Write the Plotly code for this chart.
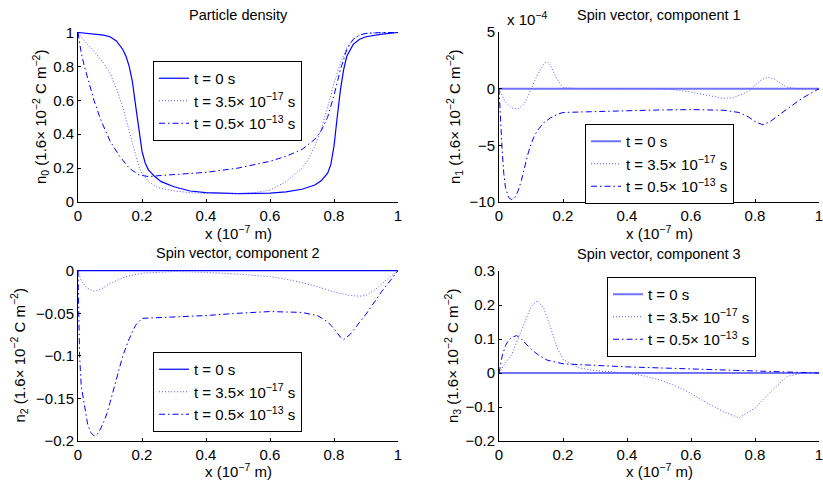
import plotly.graph_objects as go

# ---------------- data ----------------
# Panel 1: particle density n0
p1_x_t0 = [0, 0.05, 0.08, 0.1, 0.12, 0.14, 0.15, 0.16, 0.17, 0.18, 0.19, 0.2, 0.21, 0.22, 0.24, 0.26, 0.3, 0.35,
           0.4, 0.5, 0.6, 0.65, 0.7, 0.74, 0.76, 0.78, 0.79, 0.8, 0.81, 0.82, 0.83, 0.84, 0.86, 0.88, 0.9, 0.95, 1]
p1_y_t0 = [1, 0.99, 0.985, 0.975, 0.95, 0.9, 0.86, 0.8, 0.71, 0.57, 0.42, 0.3, 0.23, 0.19, 0.15, 0.12, 0.09, 0.065,
           0.055, 0.05, 0.052, 0.06, 0.075, 0.1, 0.125, 0.17, 0.22, 0.33, 0.5, 0.66, 0.78, 0.86, 0.93, 0.96, 0.975,
           0.99, 1]
p1_x_t1 = [0, 0.02, 0.05, 0.08, 0.1, 0.12, 0.14, 0.16, 0.18, 0.19, 0.2, 0.22, 0.25, 0.3, 0.35, 0.4, 0.5, 0.55,
           0.6, 0.65, 0.7, 0.72, 0.74, 0.76, 0.78, 0.8, 0.82, 0.84, 0.86, 0.88, 0.9, 0.95, 1]
p1_y_t1 = [1, 0.95, 0.89, 0.82, 0.76, 0.67, 0.56, 0.42, 0.27, 0.21, 0.17, 0.12, 0.085, 0.065, 0.055, 0.05, 0.05, 0.055,
           0.07, 0.12, 0.2, 0.25, 0.33, 0.43, 0.56, 0.7, 0.82, 0.91, 0.96, 0.985, 0.995, 1, 1]
p1_x_t2 = [0, 0.005, 0.01, 0.02, 0.03, 0.05, 0.07, 0.1, 0.13, 0.16, 0.19, 0.22, 0.25, 0.3, 0.4, 0.5, 0.6, 0.65,
           0.7, 0.74, 0.76, 0.78, 0.8, 0.82, 0.84, 0.86, 0.88, 0.9, 0.95, 1]
p1_y_t2 = [1, 0.94, 0.88, 0.8, 0.73, 0.6, 0.49, 0.36, 0.27, 0.2, 0.16, 0.15, 0.155, 0.163, 0.175, 0.2, 0.24, 0.27,
           0.31, 0.37, 0.42, 0.5, 0.63, 0.78, 0.9, 0.96, 0.985, 0.995, 1, 1]

# Panel 2: spin component 1 (units of 1e-4)
p2_x_t0 = [0, 1]
p2_y_t0 = [0, 0]
p2_x_t1 = [0, 0.02, 0.04, 0.06, 0.08, 0.1, 0.12, 0.14, 0.15, 0.16, 0.18, 0.2, 0.25, 0.5, 0.55, 0.6, 0.65,
           0.7, 0.73, 0.76, 0.78, 0.8, 0.82, 0.84, 0.86, 0.88, 0.9, 0.93, 1]
p2_y_t1 = [0, -1.2, -1.7, -1.8, -1.3, -0.1, 1.2, 2.2, 2.4, 2.1, 0.9, 0.1, 0, 0, -0.1, -0.3, -0.6,
           -0.85, -0.8, -0.5, -0.2, 0.3, 0.8, 1.0, 0.85, 0.45, 0.15, 0, 0]
p2_x_t2 = [0, 0.005, 0.01, 0.015, 0.02, 0.03, 0.04, 0.05, 0.06, 0.07, 0.08, 0.09, 0.1, 0.11, 0.12, 0.14, 0.16,
           0.18, 0.2, 0.3, 0.4, 0.5, 0.6, 0.7, 0.75, 0.78, 0.8, 0.825, 0.85, 0.9, 0.95, 1]
p2_y_t2 = [0, -3, -5.5, -7.5, -8.7, -9.6, -9.8, -9.6, -9.0, -8.1, -6.9, -5.8, -4.9, -4.2, -3.7, -3.0, -2.6,
           -2.3, -2.1, -2.05, -1.95, -1.88, -1.85, -1.9, -2.1, -2.5, -2.9, -3.2, -2.85, -1.8, -0.8, 0]

# Panel 3: spin component 2
p3_x_t0 = [0, 1]
p3_y_t0 = [0, 0]
p3_x_t1 = [0, 0.01, 0.03, 0.05, 0.07, 0.1, 0.15, 0.2, 0.3, 0.4, 0.5, 0.6, 0.65, 0.7, 0.75, 0.8, 0.85,
           0.88, 0.9, 0.93, 0.96, 1]
p3_y_t1 = [0, -0.012, -0.021, -0.024, -0.022, -0.015, -0.007, -0.003, -0.001, -0.002, -0.004, -0.007, -0.01,
           -0.014, -0.019, -0.025, -0.029, -0.03, -0.029, -0.022, -0.012, 0]
p3_x_t2 = [0, 0.005, 0.01, 0.02, 0.03, 0.04, 0.05, 0.06, 0.07, 0.08, 0.09, 0.1, 0.12, 0.14, 0.16, 0.18, 0.2,
           0.3, 0.4, 0.5, 0.6, 0.7, 0.75, 0.78, 0.8, 0.82, 0.83, 0.85, 0.9, 0.95, 1]
p3_y_t2 = [0, -0.1, -0.135, -0.16, -0.18, -0.19, -0.194, -0.192, -0.186, -0.178, -0.168, -0.155, -0.127, -0.1,
           -0.08, -0.064, -0.056, -0.0545, -0.0527, -0.05, -0.048, -0.049, -0.053, -0.06, -0.068, -0.078,
           -0.081, -0.075, -0.051, -0.024, 0]

# Panel 4: spin component 3
p4_x_t0 = [0, 1]
p4_y_t0 = [0, 0]
p4_x_t1 = [0, 0.02, 0.04, 0.06, 0.08, 0.1, 0.12, 0.14, 0.16, 0.18, 0.2, 0.25, 0.3, 0.4, 0.45, 0.5, 0.55,
           0.6, 0.65, 0.7, 0.75, 0.8, 0.85, 0.9, 0.95, 1]
p4_y_t1 = [0, 0.03, 0.055, 0.1, 0.15, 0.195, 0.213, 0.19, 0.137, 0.078, 0.04, 0.015, 0.007, 0.0, -0.008,
           -0.02, -0.037, -0.06, -0.088, -0.113, -0.132, -0.103, -0.054, -0.01, 0, 0]
p4_x_t2 = [0, 0.01, 0.02, 0.03, 0.04, 0.055, 0.07, 0.085, 0.1, 0.12, 0.15, 0.2, 0.3, 0.4, 0.5, 0.6, 0.7,
           0.8, 0.9, 1]
p4_y_t2 = [0, 0.05, 0.08, 0.097, 0.105, 0.11, 0.1, 0.085, 0.07, 0.055, 0.038, 0.027, 0.022, 0.018, 0.015,
           0.012, 0.009, 0.005, 0.001, 0]

legend_names = ["t = 0 s", "t = 3.5× 10<sup>−17</sup> s", "t = 0.5× 10<sup>−13</sup> s"]
titles = ["Particle density", "Spin vector, component 1", "Spin vector, component 2", "Spin vector, component 3"]
ytitles = ["n<sub>0</sub> (1.6× 10<sup>−2</sup> C m<sup>−2</sup>)",
           "n<sub>1</sub> (1.6× 10<sup>−2</sup> C m<sup>−2</sup>)",
           "n<sub>2</sub> (1.6× 10<sup>−2</sup> C m<sup>−2</sup>)",
           "n<sub>3</sub> (1.6× 10<sup>−2</sup> C m<sup>−2</sup>)"]
xtitle = "x (10<sup>−7</sup> m)"
x_ticks = [0, 0.2, 0.4, 0.6, 0.8, 1]
x_ticktext = ["0", "0.2", "0.4", "0.6", "0.8", "1"]
y1_ticks = [0, 0.2, 0.4, 0.6, 0.8, 1]
y1_text = ["0", "0.2", "0.4", "0.6", "0.8", "1"]
y2_ticks = [-10, -5, 0, 5]
y2_text = ["−10", "−5", "0", "5"]
y3_ticks = [-0.2, -0.15, -0.1, -0.05, 0]
y3_text = ["−0.2", "−0.15", "−0.1", "−0.05", "0"]
y4_ticks = [-0.2, -0.1, 0, 0.1, 0.2, 0.3]
y4_text = ["−0.2", "−0.1", "0", "0.1", "0.2", "0.3"]

# ---------------- figure ----------------
FONT = "Liberation Sans, Arial, Helvetica, sans-serif"
BLUE = "#0000ff"
W, H = 823, 480

# pixel boxes of the four axes (left, right, top, bottom)
boxes = [(78, 398, 32, 202), (499, 819, 32, 202), (78, 398, 270, 441), (499, 819, 271, 441)]
legend_pos = [(153, 61), (585, 124), (153, 352), (607, 277)]
ytitle_x = [40, 454, 19, 452]
xtitle_y = [233, 233, 470, 470]

panels = [
    (p1_x_t0, p1_y_t0, p1_x_t1, p1_y_t1, p1_x_t2, p1_y_t2),
    (p2_x_t0, p2_y_t0, p2_x_t1, p2_y_t1, p2_x_t2, p2_y_t2),
    (p3_x_t0, p3_y_t0, p3_x_t1, p3_y_t1, p3_x_t2, p3_y_t2),
    (p4_x_t0, p4_y_t0, p4_x_t1, p4_y_t1, p4_x_t2, p4_y_t2),
]
yranges = [[0, 1.003], [-10, 5], [-0.2, 0.0008], [-0.2, 0.3]]
yticks = [(y1_ticks, y1_text), (y2_ticks, y2_text), (y3_ticks, y3_text), (y4_ticks, y4_text)]
solid_colors = [BLUE, "#7272ff", BLUE, "#7272ff"]
solid_widths = [1.2, 2, 1.2, 2]

fig = go.Figure()
layout = dict(width=W, height=H, margin=dict(l=0, r=0, t=0, b=0, autoexpand=False),
              paper_bgcolor="white", plot_bgcolor="white", showlegend=True,
              font=dict(family=FONT, size=15, color="black"), annotations=[])

for i, (xa, ya, xb, yb, xc, yc) in enumerate(panels):
    n = i + 1
    xref = "x" if n == 1 else f"x{n}"
    yref = "y" if n == 1 else f"y{n}"
    leg = "legend" if n == 1 else f"legend{n}"
    fig.add_trace(go.Scatter(x=xa, y=ya, mode="lines", name=legend_names[0], xaxis=xref, yaxis=yref,
                             legend=leg, line=dict(color=solid_colors[i], width=solid_widths[i])))
    fig.add_trace(go.Scatter(x=xb, y=yb, mode="lines", name=legend_names[1], xaxis=xref, yaxis=yref,
                             legend=leg, line=dict(color="#5555ff", width=1, dash="1px,2px")))
    fig.add_trace(go.Scatter(x=xc, y=yc, mode="lines", name=legend_names[2], xaxis=xref, yaxis=yref,
                             legend=leg, line=dict(color=BLUE, width=1, dash="6px,3px,1.5px,3px")))

    l, r, t, b = boxes[i]
    xd = [l / W, r / W]
    yd = [1 - b / H, 1 - t / H]
    axcommon = dict(showline=True, linecolor="black", linewidth=1, mirror=False, showgrid=False,
                    zeroline=False, ticks="inside", ticklen=3, tickwidth=1, tickcolor="black",
                    tickfont=dict(family=FONT, size=15, color="black"), fixedrange=True, automargin=False,
                    ticklabeloverflow="allow")
    layout["xaxis" if n == 1 else f"xaxis{n}"] = dict(
        domain=xd, range=[0, 1], anchor=yref, tickmode="array", tickvals=x_ticks, ticktext=x_ticktext,
        **axcommon)
    layout["yaxis" if n == 1 else f"yaxis{n}"] = dict(
        domain=yd, range=yranges[i], anchor=xref, tickmode="array", tickvals=yticks[i][0],
        ticktext=yticks[i][1], **axcommon)

    lx, ly = legend_pos[i]
    layout[leg] = dict(x=lx / W, y=1 - ly / H, xanchor="left", yanchor="top",
                       bgcolor="white", bordercolor="black", borderwidth=1,
                       font=dict(family=FONT, size=15, color="black"), tracegroupgap=0)

    cx = (l + r) / 2 / W
    # subplot title
    layout["annotations"].append(dict(text=titles[i], x=cx, y=1 - (t - 17) / H, xref="paper", yref="paper",
                                      xanchor="center", yanchor="middle", showarrow=False,
                                      font=dict(family=FONT, size=14.5, color="black")))
    # x title
    layout["annotations"].append(dict(text=xtitle, x=cx, y=1 - xtitle_y[i] / H, xref="paper", yref="paper",
                                      xanchor="center", yanchor="middle", showarrow=False,
                                      font=dict(family=FONT, size=15, color="black")))
    # y title
    layout["annotations"].append(dict(text=ytitles[i], x=ytitle_x[i] / W, y=1 - (t + b) / 2 / H,
                                      xref="paper", yref="paper", xanchor="center", yanchor="middle",
                                      textangle=-90, showarrow=False,
                                      font=dict(family=FONT, size=15, color="black")))

# exponent label of panel 2
layout["annotations"].append(dict(text="x 10<sup>−4</sup>", x=505 / W, y=1 - 30 / H, xref="paper",
                                  yref="paper", xanchor="left", yanchor="bottom", showarrow=False,
                                  font=dict(family=FONT, size=15, color="black")))

fig.update_layout(**layout)
fig.write_html("out.html", config={"displayModeBar": False},
               post_script="document.body.style.margin='0';document.body.style.overflow='hidden';")
